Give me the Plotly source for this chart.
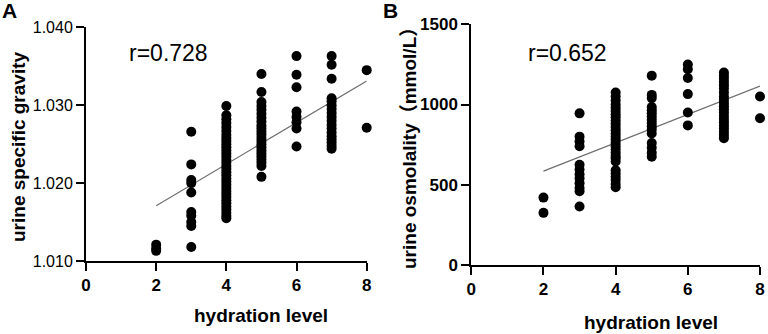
import plotly.graph_objects as go

# ---------------- data ----------------
# Panel A: urine specific gravity vs hydration level
a_x2 = [1.0121, 1.0116, 1.0113]
a_x3 = [1.0266, 1.0224, 1.0204, 1.0200, 1.0188, 1.0163, 1.0158, 1.0150, 1.0145, 1.0118]
a_x4 = [1.0299, 1.0287, 1.0282, 1.0277, 1.0272, 1.0267, 1.0262, 1.0258, 1.0254, 1.0250,
        1.0246, 1.0242, 1.0238, 1.0234, 1.0230, 1.0226, 1.0222, 1.0218, 1.0214, 1.0210,
        1.0206, 1.0202, 1.0198, 1.0194, 1.0190, 1.0186, 1.0182, 1.0178, 1.0174, 1.0170,
        1.0166, 1.0162, 1.0158, 1.0155]
a_x5 = [1.0340, 1.0317, 1.0304, 1.0299, 1.0294, 1.0289, 1.0284, 1.0279, 1.0274, 1.0270,
        1.0266, 1.0262, 1.0258, 1.0254, 1.0250, 1.0246, 1.0242, 1.0238, 1.0234, 1.0230,
        1.0226, 1.0222, 1.0208]
a_x6 = [1.0363, 1.0339, 1.0323, 1.0292, 1.0285, 1.0278, 1.0270, 1.0247]
a_x7 = [1.0363, 1.0352, 1.0334, 1.0309, 1.0305, 1.0300, 1.0295, 1.0290, 1.0285, 1.0280,
        1.0275, 1.0270, 1.0265, 1.0260, 1.0256, 1.0252, 1.0248, 1.0244]
a_x8 = [1.0345, 1.0271]
a_fit_x = [2, 8]
a_fit_y = [1.0171, 1.0331]
a_r_text = "r=0.728"

# Panel B: urine osmolality vs hydration level
b_x2 = [420, 325]
b_x3 = [945, 800, 770, 740, 625, 595, 565, 540, 510, 480, 460, 365]
b_x4 = [1075, 1050, 1025, 1000, 980, 960, 940, 920, 900, 880, 860, 840, 820, 800, 780,
        760, 740, 720, 700, 680, 665, 645, 590, 570, 550, 530, 505, 485]
b_x5 = [1180, 1060, 1040, 985, 965, 945, 925, 905, 885, 865, 845, 820, 760, 730, 700, 675]
b_x6 = [1250, 1220, 1165, 1065, 950, 870]
b_x7 = [1200, 1180, 1160, 1140, 1120, 1100, 1075, 1050, 1030, 1010, 990, 970, 950, 930,
        910, 890, 870, 850, 830, 810, 790]
b_x8 = [1050, 915]
b_fit_x = [2, 8]
b_fit_y = [585, 1115]
b_r_text = "r=0.652"

x_ticks = [0, 2, 4, 6, 8]
x_ticklabels = ["0", "2", "4", "6", "8"]
a_yticks = [1.010, 1.020, 1.030, 1.040]
a_yticklabels = ["1.010", "1.020", "1.030", "1.040"]
b_yticks = [0, 500, 1000, 1500]
b_yticklabels = ["0", "500", "1000", "1500"]

x_title = "hydration level"
a_y_title = "urine specific gravity"
b_y_title = "urine osmolality（mmol/L）"

# ---------------- figure ----------------
W, H = 768, 334
FONT = "Liberation Sans, Arial, Noto Sans CJK SC, sans-serif"


def px(x):
    return x / W


def py(y):
    return 1 - y / H


def columns(groups):
    xs, ys = [], []
    for level, vals in groups:
        xs += [level] * len(vals)
        ys += vals
    return xs, ys


ax, ay = columns([(2, a_x2), (3, a_x3), (4, a_x4), (5, a_x5), (6, a_x6), (7, a_x7), (8, a_x8)])
bx, by = columns([(2, b_x2), (3, b_x3), (4, b_x4), (5, b_x5), (6, b_x6), (7, b_x7), (8, b_x8)])

fig = go.Figure()
fig.add_trace(go.Scatter(x=a_fit_x, y=a_fit_y, mode="lines",
                         line=dict(color="#6e6e6e", width=1.2),
                         xaxis="x", yaxis="y", showlegend=False, hoverinfo="skip"))
fig.add_trace(go.Scatter(x=ax, y=ay, mode="markers",
                         marker=dict(color="black", size=10, line=dict(width=0)),
                         xaxis="x", yaxis="y", showlegend=False, cliponaxis=False))
fig.add_trace(go.Scatter(x=b_fit_x, y=b_fit_y, mode="lines",
                         line=dict(color="#6e6e6e", width=1.2),
                         xaxis="x2", yaxis="y2", showlegend=False, hoverinfo="skip"))
fig.add_trace(go.Scatter(x=bx, y=by, mode="markers",
                         marker=dict(color="black", size=10, line=dict(width=0)),
                         xaxis="x2", yaxis="y2", showlegend=False, cliponaxis=False))

axis_common = dict(showline=True, linecolor="black", linewidth=2, ticks="outside",
                   ticklen=8, tickwidth=2, tickcolor="black", showgrid=False,
                   zeroline=False, mirror=False, automargin=False)
xtickfont = dict(family=FONT, size=17, color="black", weight="bold")

fig.update_layout(
    width=W, height=H,
    margin=dict(l=0, r=0, t=0, b=0, pad=0, autoexpand=False),
    paper_bgcolor="white", plot_bgcolor="white",
    font=dict(family=FONT, color="black"),
    xaxis=dict(domain=[px(86), px(366.7)], range=[0, 8], tickvals=x_ticks,
               ticktext=x_ticklabels, tickfont=xtickfont, anchor="y", **axis_common),
    yaxis=dict(domain=[py(261), py(27.3)], range=[1.010, 1.040], tickvals=a_yticks,
               ticktext=a_yticklabels, anchor="x",
               tickfont=dict(family=FONT, size=16, color="black"), **axis_common),
    xaxis2=dict(domain=[px(471.3), px(760)], range=[0, 8], tickvals=x_ticks,
                ticktext=x_ticklabels, tickfont=xtickfont, anchor="y2", **axis_common),
    yaxis2=dict(domain=[py(265), py(24.3)], range=[0, 1500], tickvals=b_yticks,
                ticktext=b_yticklabels, anchor="x2",
                tickfont=dict(family=FONT, size=17, color="black", weight="bold"),
                **axis_common),
)

ann = []
title_font = dict(family=FONT, size=19, color="black", weight="bold")
ann.append(dict(text=x_title, x=px(261), y=py(315), xref="paper", yref="paper",
                xanchor="center", yanchor="middle", showarrow=False, font=title_font))
ann.append(dict(text=x_title, x=px(651), y=py(322), xref="paper", yref="paper",
                xanchor="center", yanchor="middle", showarrow=False, font=title_font))
ann.append(dict(text=a_y_title, x=px(18), y=py(147), xref="paper", yref="paper",
                xanchor="center", yanchor="middle", textangle=-90, showarrow=False,
                font=title_font))
ann.append(dict(text=b_y_title, x=px(409), y=py(144), xref="paper", yref="paper",
                xanchor="center", yanchor="middle", textangle=-90, showarrow=False,
                font=title_font))
r_font = dict(family=FONT, size=23, color="black")
ann.append(dict(text=a_r_text, x=px(127), y=py(53), xref="paper", yref="paper",
                xanchor="left", yanchor="middle", showarrow=False, font=r_font))
ann.append(dict(text=b_r_text, x=px(526), y=py(53), xref="paper", yref="paper",
                xanchor="left", yanchor="middle", showarrow=False, font=r_font))
letter_font = dict(family=FONT, size=21, color="black", weight="bold")
ann.append(dict(text="A", x=px(9), y=py(11), xref="paper", yref="paper",
                xanchor="center", yanchor="middle", showarrow=False, font=letter_font))
ann.append(dict(text="B", x=px(390), y=py(11), xref="paper", yref="paper",
                xanchor="center", yanchor="middle", showarrow=False, font=letter_font))
fig.update_layout(annotations=ann)

fig.write_html("out.html", config={"displayModeBar": False},
               post_script="document.body.style.margin='0';document.body.style.overflow='hidden';")
